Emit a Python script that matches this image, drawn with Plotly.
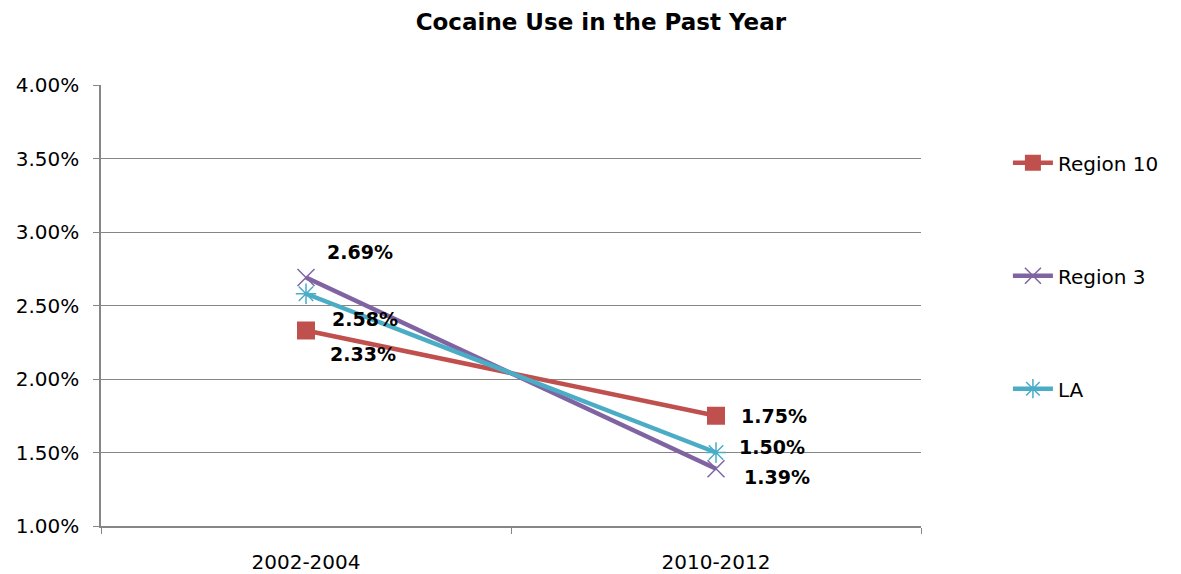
import plotly.graph_objects as go

categories = ["2002-2004", "2010-2012"]
region10 = [0.0233, 0.0175]
region3 = [0.0269, 0.0139]
la = [0.0258, 0.0150]
y_ticks = [0.01, 0.015, 0.02, 0.025, 0.03, 0.035, 0.04]
y_tick_labels = ["1.00%", "1.50%", "2.00%", "2.50%", "3.00%", "3.50%", "4.00%"]

FONT = "DejaVu Sans"
series = [
    ("Region 10", region10, "#C0504D", dict(symbol="square", size=18, color="#C0504D"), [(57, -24), (58, 0)]),
    ("Region 3", region3, "#8064A2", dict(symbol="x-thin-open", size=17, color="#8064A2", line=dict(width=1.5, color="#8064A2")), [(54, 26), (61, -8)]),
    ("LA", la, "#4BACC6", dict(symbol="asterisk-open", size=17, color="#4BACC6", line=dict(width=1.5, color="#4BACC6")), [(59, -25), (56, 6)]),
]

fig = go.Figure()
annotations = []
for i, (name, vals, color, marker, offs) in enumerate(series):
    fig.add_trace(go.Scatter(
        x=categories, y=vals, name=name, mode="lines+markers",
        line=dict(color=color, width=4.5), marker=marker, legendgroup=name,
    ))
    for c, v, (dx, dy) in zip(categories, vals, offs):
        annotations.append(dict(
            x=c, y=v, xref="x", yref="y", text=f"<b>{v*100:.2f}%</b>",
            showarrow=False, xshift=dx, yshift=dy,
            font=dict(family=FONT, size=19, color="black"),
        ))

fig.update_layout(
    width=1181, height=574,
    margin=dict(l=93, r=268, t=77, b=56),
    paper_bgcolor="white", plot_bgcolor="white",
    title=dict(text="<b>Cocaine Use in the Past Year</b>", x=0.502, xanchor="center",
               y=0.9756, yanchor="middle", font=dict(family=FONT, size=23, color="black")),
    font=dict(family=FONT, size=20, color="black"),
    legend=dict(x=1.106, xanchor="left", y=0.868, yanchor="top", traceorder="grouped",
                tracegroupgap=84, font=dict(family=FONT, size=20, color="black"),
                itemwidth=40),
    annotations=annotations,
    showlegend=True,
)
fig.update_xaxes(
    type="category", range=[-0.5, 1.5], tickson="boundaries", ticks="outside",
    ticklen=6, tickcolor="#868686", showline=True, linecolor="#868686", linewidth=1.5,
    showgrid=False, tickfont=dict(family=FONT, size=20), ticklabelstandoff=17,
    automargin=False,
)
fig.update_yaxes(
    range=[0.01, 0.04], tickvals=y_ticks, ticktext=y_tick_labels, ticks="outside",
    ticklen=6, tickcolor="#868686", showline=True, linecolor="#868686", linewidth=1.5,
    showgrid=True, gridcolor="#868686", gridwidth=1, zeroline=False,
    tickfont=dict(family=FONT, size=20), ticklabelstandoff=10, automargin=False,
)

fig.write_html("out.html")
